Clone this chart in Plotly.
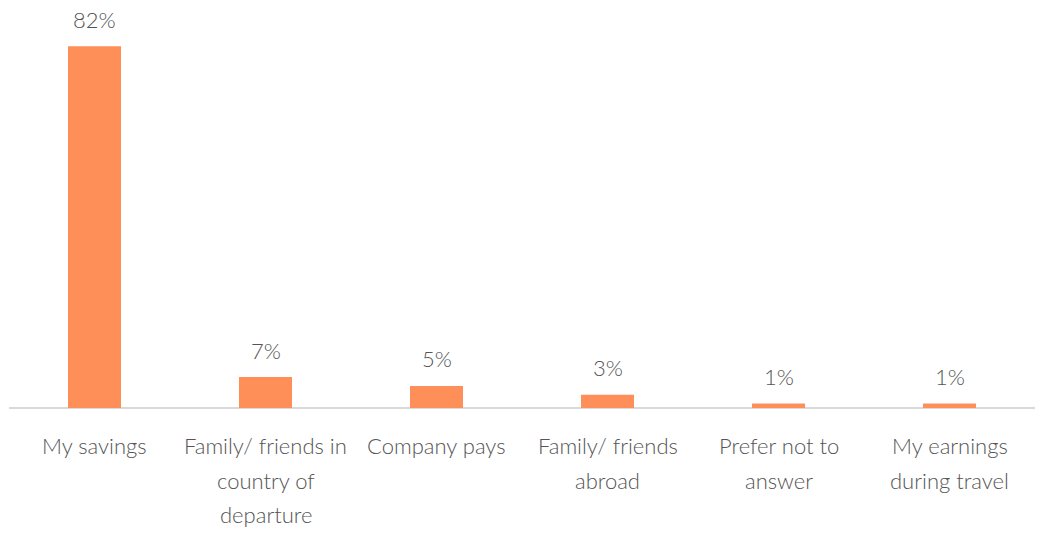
import plotly.graph_objects as go

# Survey: how the trip is funded
categories = [
    "My savings",
    "Family/ friends in<br>country of<br>departure",
    "Company pays",
    "Family/ friends<br>abroad",
    "Prefer not to<br>answer",
    "My earnings<br>during travel",
]
shares = [82, 7, 5, 3, 1, 1]
share_labels = ["82%", "7%", "5%", "3%", "1%", "1%"]

BAR_COLOR = "#FF8F59"
TEXT_COLOR = "#555555"
FONT = "Lato"

x_pos = list(range(len(categories)))

fig = go.Figure(
    go.Bar(
        x=x_pos,
        y=shares,
        marker=dict(color=BAR_COLOR, line=dict(width=0)),
        width=0.31,
        hoverinfo="skip",
    )
)

annotations = []
# value labels above each bar
for xi, val, lab in zip(x_pos, shares, share_labels):
    annotations.append(dict(
        x=xi, y=val, xref="x", yref="y", text=lab, showarrow=False,
        yanchor="middle", yshift=27,
        font=dict(family=FONT, size=22, color=TEXT_COLOR, weight=300),
    ))
# category labels below the axis, one line per annotation
for xi, cat in zip(x_pos, categories):
    for i, line in enumerate(cat.split("<br>")):
        annotations.append(dict(
            x=xi, y=0, xref="x", yref="paper", text=line, showarrow=False,
            yanchor="middle", yshift=-37.5 - 34.5 * i,
            font=dict(family=FONT, size=22, color=TEXT_COLOR, weight=300),
        ))

fig.update_layout(
    width=1041,
    height=534,
    margin=dict(l=9, r=6, t=11, b=126),
    paper_bgcolor="white",
    plot_bgcolor="white",
    showlegend=False,
    xaxis=dict(
        range=[-0.5, len(categories) - 0.5],
        showticklabels=False,
        showgrid=False,
        zeroline=False,
        showline=False,
        ticks="",
        fixedrange=True,
    ),
    yaxis=dict(
        range=[0, 90],
        showticklabels=False,
        showgrid=False,
        zeroline=True,
        zerolinecolor="#D9D9D9",
        zerolinewidth=2,
        showline=False,
        ticks="",
        fixedrange=True,
    ),
    annotations=annotations,
)

fig.write_html("out.html")
